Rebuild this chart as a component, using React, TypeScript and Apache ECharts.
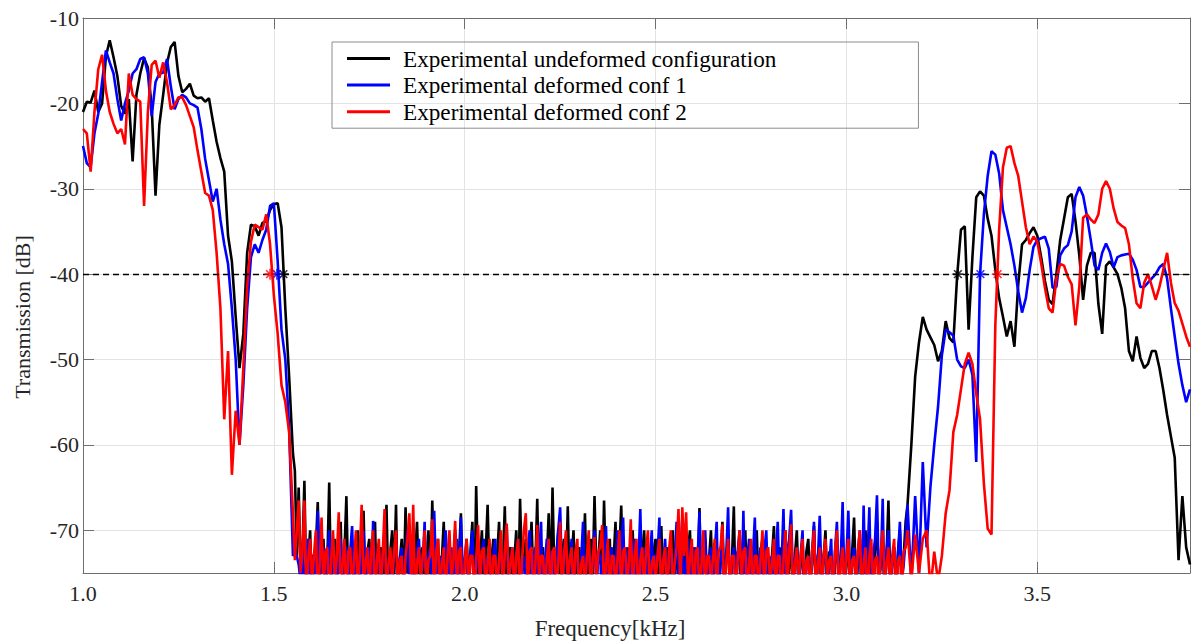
import React, { useEffect, useRef } from "react";
import * as echarts from "echarts";

// ---- axes ----
const X_MIN = 1.0;
const X_MAX = 3.9;
const Y_MIN = -75;
const Y_MAX = -10;
const X_TICKS = [1.0, 1.5, 2.0, 2.5, 3.0, 3.5];
const Y_TICKS = [-70, -60, -50, -40, -30, -20, -10];
const THRESHOLD = -40;

const SERIES_NAMES = [
  "Experimental undeformed configuration",
  "Experimental deformed conf 1",
  "Experimental deformed conf 2",
];
const SERIES_COLORS = ["#000000", "#0000ff", "#ff0000"];

// ---- sampling of the three segments (kHz) ----
const LOW_START = 1.0; // 1.00 .. 1.55, step 0.01
const LOW_STEP = 0.01;
const NOISE_START = 1.555; // 1.555 .. 3.155, step 0.005
const NOISE_STEP = 0.005;
const HIGH_START = 3.16; // 3.16 .. 3.90, step 0.01
const HIGH_STEP = 0.01;

// ---- undeformed (black) ----
const undeformedLow = [
  -21, -19.8, -19.9, -18.5, -21, -20, -14.5, -12.6, -14.6, -16.8,
  -20.3, -21.2, -19.5, -26.8, -19, -16.5, -14.7, -15.8, -20.5, -30.8,
  -22.5, -19, -15.3, -13.4, -12.8, -16.8, -18.7, -18.3, -17.7, -19.1,
  -19.4, -19.3, -19.8, -19.4, -22, -24.5, -26.4, -28, -35.5, -38.5,
  -45, -51, -47, -37.5, -34.2, -34.4, -35.5, -34, -33.8, -32.5,
  -31.8, -31.7, -34.5, -44, -52, -61,
];
const undeformedNoise = [
  -63, -73, -65, -75, -72.5, -64.2, -77, -73.5, -70, -78, -73, -72, -66.7, -76, -73.5, -71, -79, -74, -64.4, -77.5,
  -73, -71, -76, -74, -69, -78, -72.5, -66, -77, -73.5, -72, -79, -73, -70, -75.5, -74, -67.7, -77.5, -72.5, -71,
  -76, -73.5, -69, -79, -73, -72, -77, -74, -67, -77.5, -72.5, -70, -75.5, -67, -79.5, -73.5, -71, -77, -67.3, -75,
  -73, -71, -78, -73.5, -69, -76, -72.5, -72, -79, -74, -70, -77, -66.5, -75.5, -73, -71, -77.5, -73.5, -69, -76,
  -72.5, -72, -79, -74, -70, -77, -73, -68, -77.5, -73.5, -71, -76, -72.5, -69, -79.5, -64.8, -75.5, -73.5, -70, -77.5,
  -72.5, -67, -76, -73.5, -71, -79, -73, -69, -77, -74, -67.2, -78, -72.5, -72, -76, -73.5, -70, -77.5, -66.3, -75,
  -73.5, -71, -79, -73, -69, -76, -74, -66.3, -78, -72.5, -72, -77, -73.5, -68, -77.5, -65, -75.5, -73, -70, -79.5,
  -73, -71, -76, -67.2, -77.5, -73.5, -70, -79, -72.5, -72, -77, -74, -68, -78, -73, -71, -76, -66, -75, -73.5,
  -70, -77.5, -66.5, -75.5, -73, -71, -79, -73.5, -69, -77, -72.5, -67.1, -76, -74, -72, -78, -73, -70, -77.5, -73.5,
  -72, -79, -73, -70, -77, -74, -73, -78, -72.5, -71, -76, -73.5, -69.5, -77.5, -73, -72, -79, -74, -70, -76,
  -73, -73, -77.5, -73.5, -71, -78, -72.5, -70, -77, -74, -72, -76, -67.4, -79, -73, -71, -77.5, -73.5, -70, -77,
  -72.5, -72, -78, -74, -69, -76, -73, -71, -77.5, -73.5, -67.2, -79, -72.5, -73, -77, -74, -70, -78, -73, -72,
  -76, -73.5, -70, -77.5, -72.5, -71, -79, -74, -73, -77, -73, -69.5, -78, -73.5, -72, -76, -72.5, -70, -77.5, -74,
  -72, -79, -73, -70, -77, -73.5, -73, -78, -72.5, -71, -76, -74, -69.5, -77.5, -73, -72, -79, -73.5, -70, -77,
  -72.5, -73, -78, -74, -71, -76, -73, -70, -77.5, -73.5, -72, -79, -72.5, -68.5, -77, -74, -71, -78, -73, -70,
  -77.5, -73.5, -72, -79, -72.5, -69, -76, -74, -71, -78, -73, -66.5, -77, -73.5, -72, -77.5, -72.5, -70, -76, -73,
  -69,
];
const undeformedHigh = [
  -67, -60, -52, -48,
  -45, -46.5, -47.4, -48.3, -50.2, -49, -45.5, -47.5, -48, -40.2,
  -34.8, -34.4, -46.5, -38, -31, -30.3, -30.8, -33.5, -35.5, -39.5,
  -42.8, -45, -47.3, -45.5, -48.5, -41.2, -36.5, -36, -35.2, -34.5,
  -35.5, -38, -40.8, -43, -43.5, -40, -36, -33.5, -31, -30.6,
  -33.8, -37.8, -43, -39, -37.5, -37.5, -43.5, -47, -39, -38.5,
  -39.2, -40, -41.6, -44, -49, -50.2, -47.3, -49.8, -51, -50.5,
  -49, -49, -51, -53.6, -56.5, -59, -61.5, -73.5, -66, -72,
  -74,
];

// ---- deformed conf 1 (blue) ----
const deformed1Low = [
  -25, -27, -27.5, -23.5, -21.2, -17.5, -13.8, -15.2, -16.5, -19.5,
  -22, -20, -18.5, -16.5, -16, -14.8, -14.6, -16.5, -21.5, -17.5,
  -16.5, -16.4, -14.8, -18, -20.7, -19.5, -19, -19.3, -20, -20.2,
  -20.5, -23, -26.5, -29, -31.5, -30, -33.6, -36.5, -38.8, -44,
  -50, -60, -53, -44, -38, -36.5, -37.5, -36, -34.8, -32,
  -31.7, -38.5, -46.5, -50, -58, -73,
];
const deformed1Noise = [
  -72.5, -73, -74, -76, -72, -77.5, -73.5, -71, -77, -73, -73, -78, -67.7, -75.5, -73.5, -72, -79, -73, -70, -77,
  -73.5, -73, -77.5, -73, -71, -76, -74, -72, -79, -72.5, -69.5, -77, -73.5, -73, -78, -73, -70, -76, -74, -72,
  -77.5, -68.9, -75.5, -73.5, -72, -79, -73, -70, -77, -74, -73, -78, -72.5, -71, -76, -73.5, -72, -77.5, -73, -70,
  -77, -73.5, -73, -79, -72.5, -71, -76, -74, -69, -77.5, -73, -72, -78, -67.7, -75.5, -73.5, -73, -79, -73, -70,
  -76, -74, -72, -77.5, -72.5, -71, -79, -68.5, -75.5, -73.5, -73, -78, -73, -70, -77, -74, -72, -77.5, -72.5, -71,
  -79, -73.5, -72, -77, -73, -71, -78, -74, -73, -76, -72.5, -69.5, -77.5, -73.5, -72, -79, -73, -71, -77, -74,
  -73, -78, -72.5, -70, -76, -73.5, -72, -77.5, -73, -69, -79, -74, -71, -77, -72.5, -73, -78, -73.5, -70, -67.3,
  -76, -73, -72, -77.5, -74, -71, -79, -72.5, -73, -77, -73.5, -69, -78, -73, -72, -76, -74, -70, -77.5, -72.5,
  -73, -79, -73.5, -69.5, -77, -73, -72, -78, -74, -70, -76, -72.5, -68.5, -77.5, -73.5, -72, -79, -73, -71, -77,
  -74, -67.5, -78, -72.5, -72, -76, -73.5, -70, -77.5, -73, -73, -68.5, -79, -74, -71, -77, -72.5, -72, -78, -73.5,
  -69, -76, -73, -68.5, -77.5, -74, -71, -79, -72.5, -72, -77, -73.5, -67.8, -78, -73, -70, -76, -74, -72, -77.5,
  -72.5, -69, -79, -73.5, -71, -77, -73, -67.3, -78, -74, -72, -76, -72.5, -70, -77.5, -67.7, -79, -73.5, -71, -77,
  -73, -68.5, -78, -74, -72, -76, -72.5, -70, -77.5, -73.5, -73, -79, -73, -69, -77, -74, -67.5, -78, -72.5, -71,
  -67.6, -76, -73.5, -72, -77.5, -73, -70, -79, -74, -73, -77, -72.5, -69, -78, -73.5, -68.3, -76, -73, -72, -77.5,
  -74, -71, -79, -72.5, -69, -77, -73.5, -66.7, -78, -73, -67.7, -76, -74, -72, -77.5, -72.5, -70, -79, -67.1, -77,
  -73.5, -67.3, -78, -73, -71, -65.9, -76, -74, -66.3, -79, -72.5, -70, -77, -73.5, -72, -77.5, -73, -69, -76, -74,
  -71,
];
const deformed1High = [
  -67, -76, -66, -75,
  -62, -72, -64.9, -60, -55.5, -49.5, -46.5, -46.8, -47.2, -50,
  -50.8, -51, -50, -51.8, -62, -40, -33, -28.5, -25.6, -26,
  -28.2, -32.5, -34.5, -36.5, -39, -42, -44.5, -42.8, -39.5, -36.8,
  -36, -35.8, -35.6, -37, -41.6, -41.5, -37.8, -37, -36.6, -35,
  -31, -29.8, -30.8, -33.2, -36, -39, -39.5, -37.5, -36.4, -37.4,
  -39.2, -38, -37.8, -37.7, -37.6, -38.3, -39.5, -41.5, -41.5, -41,
  -40.5, -40, -39.2, -38.8, -40.5, -44, -47.3, -50.5, -53, -55,
  -53.5,
];

// ---- deformed conf 2 (red) ----
const deformed2Low = [
  -23, -23.5, -28, -21, -16, -14.3, -18.5, -21, -22.4, -23.5,
  -23, -24.8, -16.5, -19, -19.5, -19.8, -32, -21, -15.5, -15,
  -17, -15.2, -17.5, -20.7, -20.2, -19.3, -19.3, -20.2, -21.5, -22.8,
  -25.5, -28, -30.5, -30.8, -32.5, -37.5, -44, -57, -49, -63.5,
  -56, -60, -51, -41.5, -36.2, -34.2, -34.5, -34.8, -33, -36.5,
  -42.5, -47, -53, -55, -58.5, -68,
];
const deformed2Noise = [
  -73.5, -70, -66.5, -75, -72.5, -66.5, -77.5, -73.5, -71, -76, -73, -70, -78, -74, -68.5, -77, -72.5, -72, -79, -73.5,
  -70, -76, -73, -67.9, -77.5, -74, -71, -79, -72.5, -72, -77, -73.5, -70, -78, -73, -67, -76, -74, -72, -77.5,
  -72.5, -70, -79, -73.5, -71, -77, -73, -67.5, -78, -74, -72, -76, -72.5, -70, -77.5, -73.5, -73, -79, -73, -71,
  -68, -77, -67, -78, -74, -72, -76, -73, -70, -77.5, -73.5, -73, -68.7, -79, -72.5, -71, -77, -74, -72, -78,
  -73, -70, -76, -73.5, -68.9, -77.5, -72.5, -72, -79, -74, -71, -77, -73, -73, -78, -73.5, -69.4, -76, -72.5, -72,
  -77.5, -74, -71, -79, -73, -73, -77, -73.5, -70, -78, -72.5, -69.2, -76, -74, -72, -77.5, -73, -71, -79, -73.5,
  -70, -68, -77, -72.5, -72, -78, -74, -69.4, -76, -73, -73, -77.5, -73.5, -71, -79, -72.5, -72, -77, -74, -69,
  -78, -73, -70, -76, -73.5, -72, -77.5, -72.5, -71, -79, -74, -73, -77, -73, -70, -78, -73.5, -70.8, -76, -72.5,
  -72, -69.4, -77.5, -74, -71, -79, -73, -73, -77, -73.5, -70, -78, -72.5, -72, -76, -74, -68.7, -77.5, -73, -71,
  -79, -73.5, -72, -77, -72.5, -70, -78, -74, -73, -76, -73, -71, -77.5, -73.5, -72, -79, -72.5, -70, -77, -74,
  -72, -67.5, -77.5, -67.3, -73, -67.9, -76, -73.5, -71, -79, -72.5, -72, -77, -74, -70, -78, -73, -73, -76, -73.5,
  -71, -77.5, -72.5, -72, -69.3, -79, -74, -71, -77, -73, -73, -78, -73.5, -70, -76, -72.5, -72, -77.5, -74, -71,
  -79, -73, -73, -77, -73.5, -70, -78, -72.5, -72, -76, -74, -71, -77.5, -73, -73, -79, -73.5, -70, -77, -72.5,
  -69.3, -78, -74, -72, -76, -73, -71, -77.5, -73.5, -73, -79, -72.5, -70, -77, -74, -72, -78, -73, -71, -76,
  -73.5, -73, -77.5, -72.5, -70, -79, -74, -72, -77, -73, -71, -78, -73.5, -73, -76, -72.5, -70, -77.5, -74, -72,
  -79, -73, -71, -77, -73.5, -73, -78, -72.5, -70, -76, -74, -72, -77.5, -73, -71, -79, -73.5, -73, -77, -72.5,
  -72,
];
const deformed2High = [
  -70, -76, -70.5, -75,
  -71, -70, -77, -72.5, -76, -73, -68, -65.3, -58.5, -56.5,
  -53.5, -50.5, -49.2, -50.5, -54, -57, -64.5, -69.8, -70.5, -46,
  -34.8, -27.5, -25.2, -25, -27, -28.5, -31.5, -34.5, -36.5, -35.6,
  -36.2, -38.7, -41.6, -44, -44.5, -40.5, -38.8, -39, -40.3, -41.2,
  -46, -41.5, -33.4, -33, -33.6, -34, -33, -30, -29.1, -30,
  -32.3, -33.9, -34.3, -34.6, -36.5, -40.5, -43.4, -44, -41, -40,
  -41.4, -43, -41.5, -39.5, -37.5, -41, -43.4, -44.3, -45.8, -47.3,
  -48.5,
];

// frequencies (kHz) where each curve crosses the -40 dB threshold
const CROSS_UNDEFORMED = [1.525, 3.292];
const CROSS_CONF1 = [1.508, 3.351];
const CROSS_CONF2 = [1.49, 3.396];

const FONT = "Liberation Serif";
const ASTERISK = "path://M0,5L10,5M5,0L5,10M1.5,1.5L8.5,8.5M8.5,1.5L1.5,8.5";

function segment(start: number, step: number, vals: number[]) {
  return vals.map((v, i) => [+(start + i * step).toFixed(3), v]);
}
function assemble(low: number[], noise: number[], high: number[]) {
  return [
    ...segment(LOW_START, LOW_STEP, low),
    ...segment(NOISE_START, NOISE_STEP, noise),
    ...segment(HIGH_START, HIGH_STEP, high),
  ];
}

export default function App() {
  const ref = useRef<HTMLDivElement>(null);

  useEffect(() => {
    if (!ref.current) return;
    const chart = echarts.init(ref.current, undefined, { renderer: "svg" });
    const frame = "#6e6e6e";
    const gridColor = "#e3e3e3";

    const curves = [
      assemble(undeformedLow, undeformedNoise, undeformedHigh),
      assemble(deformed1Low, deformed1Noise, deformed1High),
      assemble(deformed2Low, deformed2Noise, deformed2High),
    ];
    const crosses = [CROSS_UNDEFORMED, CROSS_CONF1, CROSS_CONF2];

    const lineSeries: any[] = curves.map((data, k) => ({
      type: "line",
      name: SERIES_NAMES[k],
      data,
      showSymbol: false,
      symbol: "none",
      clip: true,
      z: 2 + k,
      lineStyle: { color: SERIES_COLORS[k], width: 2.6 },
      itemStyle: { color: SERIES_COLORS[k] },
      ...(k === 0
        ? {
            markLine: {
              silent: true,
              symbol: ["none", "none"],
              label: { show: false },
              z: 10,
              lineStyle: { color: "#000", type: [6, 4], width: 1.4 },
              data: [{ yAxis: THRESHOLD }],
            },
          }
        : {}),
    }));

    const starSeries: any[] = crosses.map((fs, k) => ({
      type: "scatter",
      name: SERIES_NAMES[k] + " crossing",
      data: fs.map((f) => [f, THRESHOLD]),
      symbol: ASTERISK,
      symbolSize: 11,
      z: 20,
      itemStyle: {
        color: "rgba(0,0,0,0)",
        borderColor: SERIES_COLORS[k],
        borderWidth: 1.6,
      },
    }));

    const xCommon = {
      type: "value",
      min: X_MIN,
      max: X_MAX,
      axisLine: { show: true, onZero: false, lineStyle: { color: frame, width: 1 } },
      axisTick: {
        show: true,
        inside: true,
        length: 11,
        customValues: X_TICKS,
        lineStyle: { color: frame, width: 1 },
      },
    };
    const yCommon = {
      type: "value",
      min: Y_MIN,
      max: Y_MAX,
      axisLine: { show: true, onZero: false, lineStyle: { color: frame, width: 1 } },
      axisTick: {
        show: true,
        inside: true,
        length: 11,
        customValues: Y_TICKS,
        lineStyle: { color: frame, width: 1 },
      },
    };

    chart.setOption({
      animation: false,
      backgroundColor: "#ffffff",
      textStyle: { fontFamily: FONT },
      grid: { left: 83, right: 2, top: 18, bottom: 71, containLabel: false },
      xAxis: [
        {
          ...xCommon,
          position: "bottom",
          axisLabel: {
            customValues: X_TICKS,
            formatter: (v: number) => v.toFixed(1),
            fontFamily: FONT,
            fontSize: 22,
            color: "#262626",
            margin: 9,
          },
          splitLine: { show: true, lineStyle: { color: gridColor, width: 1 } },
        },
        {
          ...xCommon,
          position: "top",
          axisLabel: { show: false },
          splitLine: { show: false },
        },
      ],
      yAxis: [
        {
          ...yCommon,
          position: "left",
          axisLabel: {
            customValues: Y_TICKS,
            fontFamily: FONT,
            fontSize: 22,
            color: "#262626",
            margin: 4,
          },
          splitLine: { show: true, lineStyle: { color: gridColor, width: 1 } },
        },
        {
          ...yCommon,
          position: "right",
          axisLabel: { show: false },
          splitLine: { show: false },
        },
      ],
      legend: {
        data: SERIES_NAMES,
        orient: "vertical",
        left: 332,
        top: 42,
        icon: "rect",
        itemWidth: 43,
        itemHeight: 3,
        itemGap: 3.6,
        padding: [5, 142, 5, 15],
        borderColor: "#8c8c8c",
        borderWidth: 1,
        selectedMode: false,
        textStyle: {
          fontFamily: FONT,
          fontSize: 23.2,
          lineHeight: 23,
          color: "#000",
          padding: [0, 0, 0, 8],
        },
      },
      graphic: [
        {
          type: "text",
          x: 610,
          y: 628,
          style: {
            text: "Frequency[kHz]",
            fontFamily: FONT,
            fontSize: 23,
            fill: "#262626",
            align: "center",
            verticalAlign: "middle",
          },
        },
        {
          type: "text",
          x: 22,
          y: 317,
          rotation: Math.PI / 2,
          style: {
            text: "Transmission [dB]",
            fontFamily: FONT,
            fontSize: 22,
            fill: "#262626",
            align: "center",
            verticalAlign: "middle",
          },
        },
      ],
      series: [...lineSeries, ...starSeries],
    });

    return () => chart.dispose();
  }, []);

  return (
    <div
      ref={ref}
      style={{ position: "fixed", left: 0, top: 0, width: 1192, height: 644 }}
    />
  );
}
